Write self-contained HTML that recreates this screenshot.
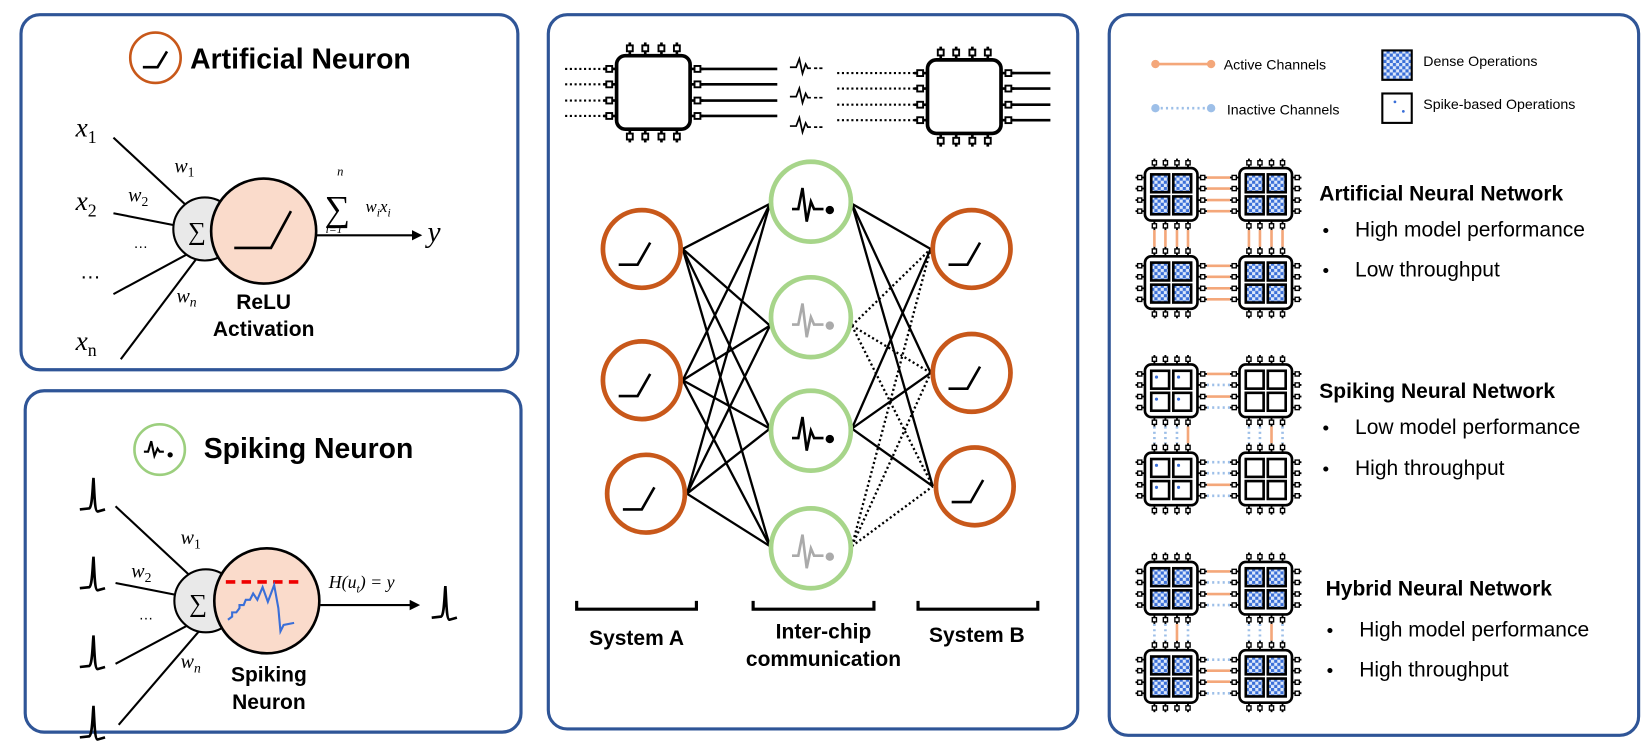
<!DOCTYPE html>
<html><head><meta charset="utf-8"><style>
html,body{margin:0;padding:0;background:#fff;}
svg{display:block;}
.t{font-family:"Liberation Sans",sans-serif;}
.m{font-family:"Liberation Serif",serif;font-style:italic;}
</style></head><body>
<svg width="1647" height="748" viewBox="0 0 1647 748" xmlns="http://www.w3.org/2000/svg">
<defs>
<pattern id="chk" patternUnits="userSpaceOnUse" width="6" height="6">
<rect width="6" height="6" fill="#dde8fa"/><rect width="3" height="3" fill="#3a6fd8"/><rect x="3" y="3" width="3" height="3" fill="#3a6fd8"/>
</pattern>
<g id="pinside">
<line x1="9" y1="0" x2="9" y2="-9" stroke="#000" stroke-width="1.8"/><rect x="7" y="-7" width="4" height="4" fill="#fff" stroke="#000" stroke-width="1.3"/>
<line x1="19.5" y1="0" x2="19.5" y2="-9" stroke="#000" stroke-width="1.8"/><rect x="17.5" y="-7" width="4" height="4" fill="#fff" stroke="#000" stroke-width="1.3"/>
<line x1="30.5" y1="0" x2="30.5" y2="-9" stroke="#000" stroke-width="1.8"/><rect x="28.5" y="-7" width="4" height="4" fill="#fff" stroke="#000" stroke-width="1.3"/>
<line x1="41" y1="0" x2="41" y2="-9" stroke="#000" stroke-width="1.8"/><rect x="39" y="-7" width="4" height="4" fill="#fff" stroke="#000" stroke-width="1.3"/>
</g>
<g id="chip">
<use href="#pinside"/>
<use href="#pinside" transform="rotate(90 25 25)"/>
<use href="#pinside" transform="rotate(180 25 25)"/>
<use href="#pinside" transform="rotate(270 25 25)"/>
<rect x="0" y="0" width="50" height="50" rx="6" fill="#fff" stroke="#000" stroke-width="2.5"/>
</g>
<g id="dense">
<use href="#chip"/>
<g fill="url(#chk)" stroke="#000" stroke-width="2.5">
<rect x="6" y="6" width="17" height="17"/><rect x="27" y="6" width="17" height="17"/>
<rect x="6" y="27" width="17" height="17"/><rect x="27" y="27" width="17" height="17"/></g>
</g>
<g id="sparse">
<use href="#chip"/>
<g fill="#fff" stroke="#000" stroke-width="2.5">
<rect x="6" y="6" width="17" height="17"/><rect x="27" y="6" width="17" height="17"/>
<rect x="6" y="27" width="17" height="17"/><rect x="27" y="27" width="17" height="17"/></g>
<g fill="#3a6fd8"><circle cx="11" cy="12" r="1.5"/><circle cx="32" cy="12" r="1.5"/><circle cx="11" cy="33" r="1.5"/><circle cx="32" cy="33" r="1.5"/></g>
</g>
<g id="inspike" fill="none" stroke="#000" stroke-width="2.5">
<path d="M-12,10 L-3,9 C0,7 0,-10 1,-20 C2,-5 2,12 5,12 L12,10"/>
</g>
<marker id="ah" markerWidth="10" markerHeight="10" refX="8" refY="5" orient="auto" markerUnits="userSpaceOnUse"><path d="M0,0 L10,5 L0,10 z" fill="#000"/></marker>
</defs>
<g transform="scale(1.0504)">
<g fill="none" stroke="#2f5597" stroke-width="3">
<rect x="20" y="14" width="473" height="338" rx="18"/>
<rect x="24" y="372" width="472" height="325" rx="18"/>
<rect x="522" y="14" width="504" height="680" rx="18"/>
<rect x="1056" y="14" width="504" height="686" rx="18"/>
</g>

<!-- Artificial neuron -->
<circle cx="148" cy="55" r="24" fill="none" stroke="#c8581a" stroke-width="2.5"/>
<path d="M136,64 L150,64 L159,49" fill="none" stroke="#000" stroke-width="2.5"/>
<text x="181" y="65" class="t" font-size="27" font-weight="bold">Artificial Neuron</text>
<g stroke="#000" stroke-width="2">
<line x1="108" y1="131" x2="180" y2="198"/>
<line x1="108" y1="203" x2="174" y2="216"/>
<line x1="108" y1="280" x2="182" y2="240"/>
<line x1="115" y1="342" x2="188" y2="245"/>
</g>
<text x="72" y="130" class="m" font-size="26">x<tspan font-size="17" font-style="normal" dy="6">1</tspan></text>
<text x="72" y="200" class="m" font-size="26">x<tspan font-size="17" font-style="normal" dy="6">2</tspan></text>
<text x="76" y="265" class="t" font-size="20">…</text>
<text x="72" y="333" class="m" font-size="26">x<tspan font-size="17" font-style="normal" dy="6">n</tspan></text>
<text x="166" y="164" class="m" font-size="19">w<tspan font-size="13" font-style="normal" dy="4">1</tspan></text>
<text x="122" y="192" class="m" font-size="19">w<tspan font-size="13" font-style="normal" dy="4">2</tspan></text>
<text x="127" y="236" class="t" font-size="14">…</text>
<text x="168" y="288" class="m" font-size="19">w<tspan font-size="13" dy="4">n</tspan></text>
<circle cx="195" cy="218" r="30" fill="#e9e9e9" stroke="#000" stroke-width="2"/>
<text x="179" y="228" class="m" font-size="24" font-style="normal">∑</text>
<circle cx="251" cy="220" r="50" fill="#fadbcb" stroke="#000" stroke-width="2.5"/>
<path d="M223,236 L258,236 L277,201" fill="none" stroke="#000" stroke-width="2.5"/>
<line x1="301" y1="224" x2="400" y2="224" stroke="#000" stroke-width="2" marker-end="url(#ah)"/>
<text x="407" y="230" class="m" font-size="28">y</text>
<text x="321" y="167" class="m" font-size="12">n</text>
<text x="309" y="210" class="m" font-size="34" font-style="normal">∑</text>
<text x="348" y="202" class="m" font-size="16">w<tspan font-size="11" dy="4">i</tspan><tspan dy="-4">x</tspan><tspan font-size="11" dy="4">i</tspan></text>
<text x="310" y="222" class="m" font-size="11">i=1</text>
<text x="251" y="294" class="t" font-size="20" font-weight="bold" text-anchor="middle">ReLU</text>
<text x="251" y="320" class="t" font-size="20" font-weight="bold" text-anchor="middle">Activation</text>

<!-- Spiking neuron -->
<circle cx="152" cy="428" r="24" fill="none" stroke="#9ccf7e" stroke-width="2.5"/>
<path d="M137,430 h4 l3,-10 l3,14 l3,-7 l2,3 h4" fill="none" stroke="#000" stroke-width="2"/>
<circle cx="162" cy="433" r="2.5"/>
<text x="194" y="436" class="t" font-size="27" font-weight="bold">Spiking Neuron</text>
<use href="#inspike" x="88" y="475"/>
<use href="#inspike" x="88" y="550"/>
<use href="#inspike" x="88" y="625"/>
<use href="#inspike" x="88" y="692"/>
<use href="#inspike" x="423" y="578"/>
<g stroke="#000" stroke-width="2">
<line x1="110" y1="482" x2="183" y2="550"/>
<line x1="110" y1="555" x2="176" y2="568"/>
<line x1="110" y1="632" x2="183" y2="593"/>
<line x1="113" y1="690" x2="192" y2="598"/>
</g>
<text x="172" y="518" class="m" font-size="19">w<tspan font-size="13" font-style="normal" dy="4">1</tspan></text>
<text x="125" y="550" class="m" font-size="19">w<tspan font-size="13" font-style="normal" dy="4">2</tspan></text>
<text x="132" y="590" class="t" font-size="14">…</text>
<text x="172" y="636" class="m" font-size="19">w<tspan font-size="13" dy="4">n</tspan></text>
<circle cx="196" cy="572" r="30" fill="#e9e9e9" stroke="#000" stroke-width="2"/>
<text x="180" y="582" class="m" font-size="24" font-style="normal">∑</text>
<circle cx="254" cy="572" r="50" fill="#fadbcb" stroke="#000" stroke-width="2.5"/>
<line x1="215" y1="554" x2="287" y2="554" stroke="#e00" stroke-width="3.5" stroke-dasharray="9,6"/>
<path d="M217,590 l4,-3 v-4 h4 l3,-4 v-3 h4 l2,-5 h4 l3,-6 l4,6 l5,-12 l5,14 l6,-16 l4,22 l2,22 l3,-6 l10,-2" fill="none" stroke="#3a6fd8" stroke-width="2"/>
<line x1="305" y1="576" x2="398" y2="576" stroke="#000" stroke-width="2" marker-end="url(#ah)"/>
<text x="313" y="560" class="m" font-size="17">H(u<tspan font-size="11" dy="4">t</tspan><tspan dy="-4">) = y</tspan></text>
<text x="256" y="649" class="t" font-size="20" font-weight="bold" text-anchor="middle">Spiking</text>
<text x="256" y="675" class="t" font-size="20" font-weight="bold" text-anchor="middle">Neuron</text>

<!-- Middle panel -->
<g stroke="#000" stroke-width="2" stroke-dasharray="2,2.5">
<line x1="538" y1="65.6" x2="577" y2="65.6"/><line x1="538" y1="80.3" x2="577" y2="80.3"/><line x1="538" y1="95.7" x2="577" y2="95.7"/><line x1="538" y1="110.4" x2="577" y2="110.4"/>
<line x1="797" y1="69.6" x2="873" y2="69.6"/><line x1="797" y1="84.3" x2="873" y2="84.3"/><line x1="797" y1="99.7" x2="873" y2="99.7"/><line x1="797" y1="114.4" x2="873" y2="114.4"/>
</g>
<g stroke="#000" stroke-width="2.5">
<line x1="666" y1="65.6" x2="740" y2="65.6"/><line x1="666" y1="80.3" x2="740" y2="80.3"/><line x1="666" y1="95.7" x2="740" y2="95.7"/><line x1="666" y1="110.4" x2="740" y2="110.4"/>
<line x1="962" y1="69.6" x2="1000" y2="69.6"/><line x1="962" y1="84.3" x2="1000" y2="84.3"/><line x1="962" y1="99.7" x2="1000" y2="99.7"/><line x1="962" y1="114.4" x2="1000" y2="114.4"/>
</g>
<use href="#chip" transform="translate(587,53) scale(1.4)"/>
<use href="#chip" transform="translate(883,57) scale(1.4)"/>
<g fill="none" stroke="#000" stroke-width="1.6">
<path d="M752,64 h6 l3,-8 l3,14 l3,-9 l2,4 h3 M775,65 h3 M780,65 h3"/>
<path d="M752,92 h6 l3,-8 l3,14 l3,-9 l2,4 h3 M775,93 h3 M780,93 h3"/>
<path d="M752,120 h6 l3,-8 l3,14 l3,-9 l2,4 h3 M775,121 h3 M780,121 h3"/>
</g>
<g stroke="#000" stroke-width="2.2">
<line x1="650" y1="237" x2="733" y2="194"/><line x1="650" y1="237" x2="733" y2="310"/><line x1="650" y1="237" x2="733" y2="408"/><line x1="650" y1="237" x2="733" y2="520"/>
<line x1="650" y1="362" x2="733" y2="194"/><line x1="650" y1="362" x2="733" y2="310"/><line x1="650" y1="362" x2="733" y2="408"/><line x1="650" y1="362" x2="733" y2="520"/>
<line x1="654" y1="470" x2="733" y2="194"/><line x1="654" y1="470" x2="733" y2="310"/><line x1="654" y1="470" x2="733" y2="408"/><line x1="654" y1="470" x2="733" y2="520"/>
<line x1="811" y1="194" x2="886" y2="237"/><line x1="811" y1="194" x2="886" y2="355"/><line x1="811" y1="194" x2="888" y2="463"/>
<line x1="811" y1="408" x2="886" y2="237"/><line x1="811" y1="408" x2="886" y2="355"/><line x1="811" y1="408" x2="888" y2="463"/>
</g>
<g stroke="#000" stroke-width="2.2" stroke-dasharray="2,2.5">
<line x1="811" y1="310" x2="886" y2="237"/><line x1="811" y1="310" x2="886" y2="355"/><line x1="811" y1="310" x2="888" y2="463"/>
<line x1="811" y1="520" x2="886" y2="237"/><line x1="811" y1="520" x2="886" y2="355"/><line x1="811" y1="520" x2="888" y2="463"/>
</g>
<g fill="#fff" stroke="#c8581a" stroke-width="4.5">
<circle cx="611" cy="237" r="37"/><circle cx="611" cy="362" r="37"/><circle cx="615" cy="470" r="37"/>
<circle cx="925" cy="237" r="37"/><circle cx="925" cy="355" r="37"/><circle cx="928" cy="463" r="37"/>
</g>
<g fill="none" stroke="#000" stroke-width="2.5">
<path d="M589,252 h18 l12,-21"/><path d="M589,377 h18 l12,-21"/><path d="M593,485 h18 l12,-21"/>
<path d="M903,252 h18 l12,-21"/><path d="M903,370 h18 l12,-21"/><path d="M906,478 h18 l12,-21"/>
</g>
<g fill="#fff" stroke="#a7d58a" stroke-width="4.5">
<circle cx="772" cy="192" r="38"/><circle cx="772" cy="302" r="38"/><circle cx="772" cy="410" r="38"/><circle cx="772" cy="522" r="38"/>
</g>
<g fill="none" stroke-width="2.5">
<path d="M754,199 h6 l4,-20 l4,32 l4,-19 l3,7 h9" stroke="#000"/>
<path d="M754,309 h6 l4,-20 l4,32 l4,-19 l3,7 h9" stroke="#aaa"/>
<path d="M754,417 h6 l4,-20 l4,32 l4,-19 l3,7 h9" stroke="#000"/>
<path d="M754,529 h6 l4,-20 l4,32 l4,-19 l3,7 h9" stroke="#aaa"/>
</g>
<circle cx="790" cy="200" r="4"/><circle cx="790" cy="310" r="4" fill="#aaa"/><circle cx="790" cy="418" r="4"/><circle cx="790" cy="530" r="4" fill="#aaa"/>
<g fill="none" stroke="#000" stroke-width="3">
<path d="M549,572 v8 h114 v-8"/><path d="M717,572 v8 h115 v-8"/><path d="M874,572 v8 h114 v-8"/>
</g>
<g class="t" font-size="20" font-weight="bold" text-anchor="middle">
<text x="606" y="614">System A</text>
<text x="784" y="608">Inter-chip</text>
<text x="784" y="634">communication</text>
<text x="930" y="611">System B</text>
</g>

<!-- Right panel legend -->
<line x1="1100" y1="61" x2="1153" y2="61" stroke="#f4a77a" stroke-width="2.5"/>
<circle cx="1100" cy="61" r="4" fill="#f4a77a"/><circle cx="1153" cy="61" r="4" fill="#f4a77a"/>
<line x1="1100" y1="103" x2="1153" y2="103" stroke="#9dbfe8" stroke-width="2.5" stroke-dasharray="2,3"/>
<circle cx="1100" cy="103" r="4" fill="#9dbfe8"/><circle cx="1153" cy="103" r="4" fill="#9dbfe8"/>
<g class="t" font-size="13.5">
<text x="1165" y="66">Active Channels</text>
<text x="1168" y="109">Inactive Channels</text>
<text x="1355" y="63">Dense Operations</text>
<text x="1355" y="104">Spike-based Operations</text>
</g>
<rect x="1316" y="48" width="28" height="28" fill="url(#chk)" stroke="#000" stroke-width="2"/>
<rect x="1316" y="89" width="28" height="28" fill="#fff" stroke="#000" stroke-width="2"/>
<circle cx="1328" cy="97" r="1.3" fill="#3a6fd8"/><circle cx="1336" cy="106" r="1.3" fill="#3a6fd8"/>

<!-- ANN -->
<g stroke="#f4a77a" stroke-width="2.5">
<line x1="1149" y1="169" x2="1171" y2="169"/><line x1="1149" y1="179.5" x2="1171" y2="179.5"/><line x1="1149" y1="190.5" x2="1171" y2="190.5"/><line x1="1149" y1="201" x2="1171" y2="201"/>
<line x1="1149" y1="253" x2="1171" y2="253"/><line x1="1149" y1="263.5" x2="1171" y2="263.5"/><line x1="1149" y1="274.5" x2="1171" y2="274.5"/><line x1="1149" y1="285" x2="1171" y2="285"/>
<line x1="1099" y1="219" x2="1099" y2="235"/><line x1="1109.5" y1="219" x2="1109.5" y2="235"/><line x1="1120.5" y1="219" x2="1120.5" y2="235"/><line x1="1131" y1="219" x2="1131" y2="235"/>
<line x1="1189" y1="219" x2="1189" y2="235"/><line x1="1199.5" y1="219" x2="1199.5" y2="235"/><line x1="1210.5" y1="219" x2="1210.5" y2="235"/><line x1="1221" y1="219" x2="1221" y2="235"/>
</g>
<use href="#dense" x="1090" y="160"/><use href="#dense" x="1180" y="160"/>
<use href="#dense" x="1090" y="244"/><use href="#dense" x="1180" y="244"/>

<!-- SNN -->
<g stroke-width="2.5">
<g stroke="#f4a77a"><line x1="1149" y1="356" x2="1171" y2="356"/><line x1="1149" y1="377.5" x2="1171" y2="377.5"/>
<line x1="1131" y1="406" x2="1131" y2="422"/><line x1="1210.5" y1="406" x2="1210.5" y2="422"/>
<line x1="1149" y1="461.5" x2="1171" y2="461.5"/></g>
<g stroke="#9dbfe8" stroke-dasharray="2,3"><line x1="1149" y1="366.5" x2="1171" y2="366.5"/><line x1="1149" y1="388" x2="1171" y2="388"/>
<line x1="1099" y1="406" x2="1099" y2="422"/><line x1="1109.5" y1="406" x2="1109.5" y2="422"/><line x1="1120.5" y1="406" x2="1120.5" y2="422"/>
<line x1="1189" y1="406" x2="1189" y2="422"/><line x1="1199.5" y1="406" x2="1199.5" y2="422"/><line x1="1221" y1="406" x2="1221" y2="422"/>
<line x1="1149" y1="440" x2="1171" y2="440"/><line x1="1149" y1="450.5" x2="1171" y2="450.5"/><line x1="1149" y1="472" x2="1171" y2="472"/></g>
</g>
<use href="#sparse" x="1090" y="347"/><use href="#chip" x="1180" y="347"/>
<use href="#sparse" x="1090" y="431"/><use href="#chip" x="1180" y="431"/>
<g fill="#fff" stroke="#000" stroke-width="2.5">
<rect x="1186" y="353" width="17" height="17"/><rect x="1207" y="353" width="17" height="17"/><rect x="1186" y="374" width="17" height="17"/><rect x="1207" y="374" width="17" height="17"/>
<rect x="1186" y="437" width="17" height="17"/><rect x="1207" y="437" width="17" height="17"/><rect x="1186" y="458" width="17" height="17"/><rect x="1207" y="458" width="17" height="17"/>
</g>

<!-- HNN -->
<g stroke-width="2.5">
<g stroke="#f4a77a"><line x1="1149" y1="544" x2="1171" y2="544"/><line x1="1149" y1="565.5" x2="1171" y2="565.5"/>
<line x1="1120.5" y1="594" x2="1120.5" y2="610"/><line x1="1210.5" y1="594" x2="1210.5" y2="610"/>
<line x1="1149" y1="638.5" x2="1171" y2="638.5"/><line x1="1149" y1="649" x2="1171" y2="649"/></g>
<g stroke="#9dbfe8" stroke-dasharray="2,3"><line x1="1149" y1="554.5" x2="1171" y2="554.5"/><line x1="1149" y1="576" x2="1171" y2="576"/>
<line x1="1099" y1="594" x2="1099" y2="610"/><line x1="1109.5" y1="594" x2="1109.5" y2="610"/><line x1="1131" y1="594" x2="1131" y2="610"/>
<line x1="1189" y1="594" x2="1189" y2="610"/><line x1="1199.5" y1="594" x2="1199.5" y2="610"/><line x1="1221" y1="594" x2="1221" y2="610"/>
<line x1="1149" y1="628" x2="1171" y2="628"/><line x1="1149" y1="660" x2="1171" y2="660"/></g>
</g>
<use href="#dense" x="1090" y="535"/><use href="#dense" x="1180" y="535"/>
<use href="#dense" x="1090" y="619"/><use href="#dense" x="1180" y="619"/>

<g class="t">
<text x="1256" y="191" font-size="20" font-weight="bold">Artificial Neural Network</text>
<text x="1259" y="225" font-size="18">•</text><text x="1290" y="225" font-size="20">High model performance</text>
<text x="1259" y="263" font-size="18">•</text><text x="1290" y="263" font-size="20">Low throughput</text>
<text x="1256" y="379" font-size="20" font-weight="bold">Spiking Neural Network</text>
<text x="1259" y="413" font-size="18">•</text><text x="1290" y="413" font-size="20">Low model performance</text>
<text x="1259" y="452" font-size="18">•</text><text x="1290" y="452" font-size="20">High throughput</text>
<text x="1262" y="567" font-size="20" font-weight="bold">Hybrid Neural Network</text>
<text x="1263" y="606" font-size="18">•</text><text x="1294" y="606" font-size="20">High model performance</text>
<text x="1263" y="644" font-size="18">•</text><text x="1294" y="644" font-size="20">High throughput</text>
</g>
</g>
</svg>
</body></html>
